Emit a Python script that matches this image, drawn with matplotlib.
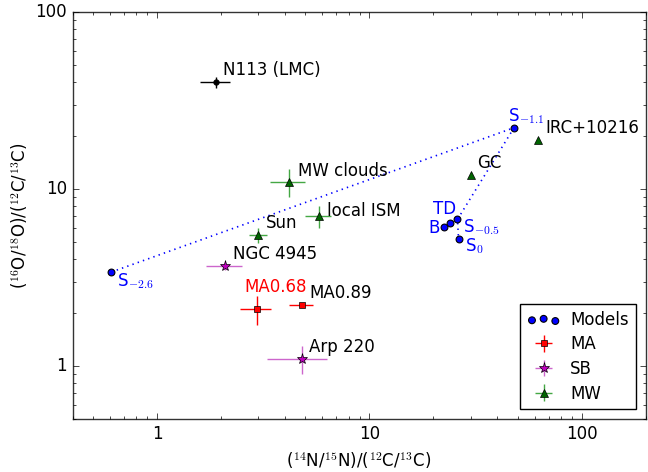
import matplotlib
matplotlib.use('Agg')
import matplotlib.pyplot as plt
from matplotlib.ticker import FormatStrFormatter

plt.style.use('classic')
plt.rcParams['mathtext.fontset'] = 'cm'

##### MODEL TRACK (dotted line S_-2.6 -> S_-1.1 -> S_-0.5 -> S_0)
model_names = ['S$_{-2.6}$', 'S$_{-1.1}$', 'S$_{-0.5}$', 'S$_{0}$', 'TD', 'B']
model_x = [0.61, 48.0, 26.0, 26.3, 24.1, 22.5]
model_y = [3.4, 22.2, 6.74, 5.2, 6.4, 6.08]
track_idx = [0, 1, 2, 3]

##### MERGER (MA)
ma_names = ['MA0.68', 'MA0.89']
ma_x = [2.95, 4.8]
ma_xerr = [0.5, 0.6]
ma_y = [2.1, 2.2]
ma_yerr = [0.4, 0.05]

##### STARBURSTS (SB)
sb_names = ['NGC 4945', 'Arp 220']
sb_x = [2.1, 4.8]
sb_xerr = [0.4, 1.5]
sb_y = [3.67, 1.1]
sb_yerr = [0.2, 0.2]

##### MILKY WAY (MW)
mw_names = ['Sun', 'local ISM', 'MW clouds', 'GC', 'IRC+10216']
mw_x = [3.0, 5.8, 4.2, 30.0, 62.0]
mw_xerr = [0.3, 0.8, 0.8, 0.0, 0.0]
mw_y = [5.5, 7.0, 11.0, 12.0, 19.0]
mw_yerr = [0.55, 1.0, 2.0, 0.0, 0.0]

##### LMC
lmc_names = ['N113 (LMC)']
lmc_x = [1.9]
lmc_xerr = [0.3]
lmc_y = [40.0]
lmc_yerr = [3.0]

##### LABEL OFFSETS (pixels right, up; to the text baseline)
offsets = {
    'S$_{-2.6}$': (6, -14), 'S$_{-1.1}$': (-6, 7), 'S$_{-0.5}$': (6, -13),
    'S$_{0}$': (6, -12), 'TD': (-17, 9), 'B': (-16, -6),
    'MA0.68': (-12, 17), 'MA0.89': (8, 7),
    'NGC 4945': (8, 7), 'Arp 220': (7, 7),
    'Sun': (8, 7), 'local ISM': (8, 0), 'MW clouds': (9, 6),
    'GC': (6, 7), 'IRC+10216': (8, 7), 'N113 (LMC)': (7, 7),
}
label_colors = {'MA0.68': 'r'}
for n in model_names:
    label_colors[n] = 'b'

fig = plt.figure(figsize=(6.48, 4.72), dpi=100)
fig.patch.set_facecolor('w')
ax = fig.add_axes([0.112, 0.1116, 0.8843, 0.8629])
ax.set_xscale('log')
ax.set_yscale('log')
for sp in ax.spines.values():
    sp.set_color('#333333')

ax.plot([model_x[i] for i in track_idx], [model_y[i] for i in track_idx],
        ':', color='b', lw=1.2, zorder=2)
ax.scatter(model_x, model_y, s=24, c='b', edgecolors='k', linewidths=0.8,
           label='Models', zorder=4)

ax.errorbar(ma_x, ma_y, xerr=ma_xerr, yerr=ma_yerr, fmt='s', color='r',
            mfc='r', mec='k', ms=5, ecolor='r', elinewidth=1, capsize=0,
            label='MA', zorder=3)
ax.errorbar(sb_x, sb_y, xerr=sb_xerr, yerr=sb_yerr, fmt='*', color='m',
            mfc='m', mec='k', ms=8, ecolor='#cc66cc', elinewidth=1,
            capsize=0, label='SB', zorder=3)
ax.errorbar(mw_x, mw_y, xerr=mw_xerr, yerr=mw_yerr, fmt='^', color='g',
            mfc='#006400', mec='k', ms=6, ecolor='#44a844', elinewidth=1,
            capsize=0, label='MW', zorder=3)
ax.errorbar(lmc_x, lmc_y, xerr=lmc_xerr, yerr=lmc_yerr, fmt='o', color='k',
            ms=4, ecolor='k', elinewidth=1, capsize=0, zorder=3)

##### TEXT LABELS
for names, xs, ys in [(model_names, model_x, model_y), (ma_names, ma_x, ma_y),
                      (sb_names, sb_x, sb_y), (mw_names, mw_x, mw_y),
                      (lmc_names, lmc_x, lmc_y)]:
    for n, x, y in zip(names, xs, ys):
        dx, dy = offsets[n]
        ax.annotate(n, (x, y), xytext=(dx * 0.72, dy * 0.72),
                    textcoords='offset points', ha='left', va='baseline',
                    fontsize=12, color=label_colors.get(n, 'k'))

ax.set_xlim(0.4, 200)
ax.set_ylim(0.5, 100)
ax.xaxis.set_major_formatter(FormatStrFormatter('%g'))
ax.yaxis.set_major_formatter(FormatStrFormatter('%g'))
ax.set_xlabel(r'($^{14}$N/$^{15}$N)/($^{12}$C/$^{13}$C)', fontsize=12)
ax.set_ylabel(r'($^{16}$O/$^{18}$O)/($^{12}$C/$^{13}$C)', fontsize=12,
              labelpad=4)

ax.legend(loc='lower right', scatterpoints=3, numpoints=1, fontsize=12,
          fancybox=False, borderaxespad=0.6, labelspacing=0.4,
          handletextpad=0.6)

fig.savefig('out.png', dpi=100, facecolor='w')
